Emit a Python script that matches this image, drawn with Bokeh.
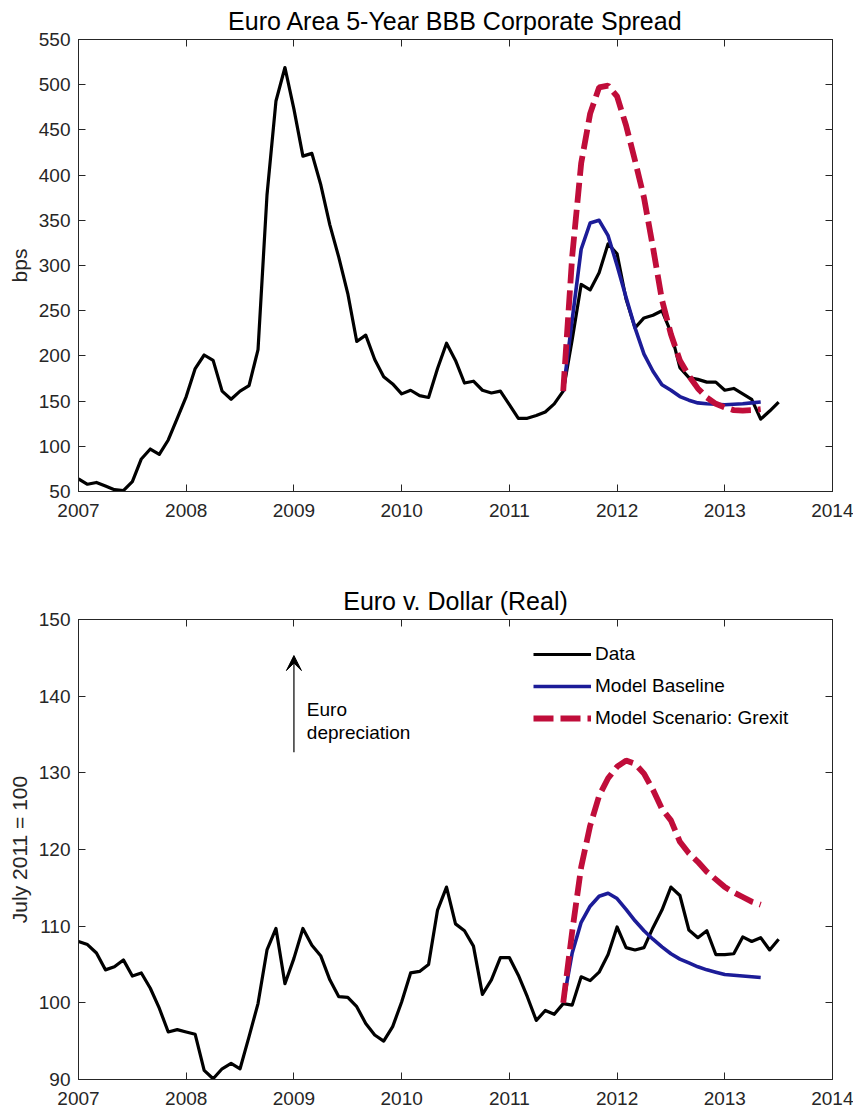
from bokeh.plotting import figure
from bokeh.models import FixedTicker, Range1d, Arrow, VeeHead, Label, LinearAxis
from bokeh.layouts import column
from bokeh.embed import file_html
from bokeh.resources import INLINE

# ---------------- data (monthly, Jan 2007 .. Jul 2013) ----------------
start_year = 2007
model_start = 54  # month index of July 2011

spread_data = [64, 58, 60, 56, 52, 51, 61, 86, 97, 91,
               107, 131, 155, 186, 201, 195, 161, 152, 161, 167,
               207, 378, 482, 519, 473, 421, 424, 389, 345, 309,
               269, 216, 223, 196, 177, 169, 158, 162, 156, 154,
               186, 214, 195, 170, 172, 162, 159, 161, 146, 131,
               131, 134, 138, 147, 161, 218, 279, 273, 292, 324,
               313, 263, 231, 242, 245, 250, 226, 187, 176, 174,
               171, 171, 162, 164, 158, 152, 130, 139, 149]
spread_baseline = [161, 240, 318, 347, 350, 333, 300, 265, 231, 202,
                   183, 168, 162, 155, 151, 148, 147, 146.5, 146, 146.5,
                   147, 148, 149]
spread_grexit = [161, 310, 413, 468, 497, 499, 487, 455, 416, 375,
                 320, 262, 224, 195, 178, 164, 154, 147, 143, 140,
                 139.5, 140, 141]

fx_data = [108.0, 107.6, 106.5, 104.3, 104.7, 105.6, 103.5, 103.9, 101.9, 99.3,
           96.2, 96.5, 96.2, 95.9, 91.2, 90.1, 91.4, 92.1, 91.4, 95.6,
           99.9, 106.9, 109.7, 102.5, 105.8, 109.7, 107.5, 106.1, 103.0, 100.8,
           100.7, 99.5, 97.3, 95.8, 95.0, 96.9, 100.1, 103.9, 104.1, 105.0,
           112.1, 115.1, 110.3, 109.4, 107.4, 101.1, 103.0, 105.9, 105.9, 103.6,
           100.8, 97.7, 99.0, 98.5, 99.9, 99.7, 103.4, 102.9, 104.0, 106.3,
           109.9, 107.2, 106.9, 107.2, 109.8, 112.1, 115.1, 114.0, 109.5, 108.5,
           109.4, 106.3, 106.3, 106.4, 108.6, 108.0, 108.5, 106.9, 108.3]
fx_baseline = [100, 106.5, 110.5, 112.6, 113.9, 114.3, 113.6, 112.2, 110.7, 109.4,
               108.3, 107.3, 106.4, 105.7, 105.2, 104.7, 104.3, 104.0, 103.7, 103.6,
               103.5, 103.4, 103.3]
fx_grexit = [100, 109.3, 117.7, 123.1, 127.0, 129.3, 130.8, 131.6, 131.2, 129.9,
             127.8, 125.3, 123.8, 121.0, 119.5, 118.4, 117.1, 116.1, 115.1, 114.4,
             113.8, 113.2, 112.8]

x_ticks = [2007, 2008, 2009, 2010, 2011, 2012, 2013, 2014]
spread_ticks = [50, 100, 150, 200, 250, 300, 350, 400, 450, 500, 550]
fx_ticks = [90, 100, 110, 120, 130, 140, 150]

legend_names = ["Data", "Model Baseline", "Model Scenario: Grexit"]
arrow_x, arrow_y0, arrow_y1 = 2009.0, 132.7, 145.3
note_x, note_y1, note_y2 = 2009.12, 138.2, 135.3


def months(n, offset=0):
    return [start_year + (offset + i) / 12.0 for i in range(n)]


x_data = months(len(spread_data))
x_model = months(len(spread_baseline), model_start)

FONT = "Liberation Sans"
AX = "#262626"
RED = "#C00D3A"
BLUE = "#1C1C98"


def style(p, yticks, title):
    p.xgrid.visible = False
    p.ygrid.visible = False
    p.outline_line_color = AX
    p.outline_line_width = 1
    p.background_fill_color = "white"
    p.border_fill_color = "white"
    p.title.text = title
    p.title.align = "center"
    p.title.text_font = FONT
    p.title.text_font_size = "25px"
    p.title.text_font_style = "normal"
    p.title.text_color = "black"
    p.title.standoff = 9
    xb = p.below[0]
    yl = p.left[0]
    xb.ticker = FixedTicker(ticks=x_ticks)
    yl.ticker = FixedTicker(ticks=yticks)
    # mirrored axes (tick marks only, no labels drawn) on the top and right edges
    xt = LinearAxis(ticker=FixedTicker(ticks=x_ticks))
    yr = LinearAxis(ticker=FixedTicker(ticks=yticks))
    for ax in [xb, yl, xt, yr]:
        ax.axis_line_color = AX
        ax.major_tick_line_color = AX
        ax.major_tick_in = 7
        ax.major_tick_out = 0
        ax.minor_tick_line_color = None
        ax.major_label_text_font = FONT
        ax.major_label_text_font_size = "19px"
        ax.major_label_text_color = AX
    for ax in [xt, yr]:
        ax.major_label_text_color = None
        ax.major_label_standoff = 0
    p.add_layout(xt, "above")
    p.add_layout(yr, "right")
    xb.major_label_standoff = 12
    yl.major_label_standoff = 8
    yl.axis_label_text_font = FONT
    yl.axis_label_text_font_size = "21px"
    yl.axis_label_text_font_style = "normal"
    yl.axis_label_text_color = AX
    yl.axis_label_standoff = 5
    return yl


# ---------------- top chart ----------------
p1 = figure(width=853, height=545, output_backend="svg", toolbar_location=None,
            x_range=Range1d(2007, 2014), y_range=Range1d(50, 550),
            min_border_left=78, min_border_right=21, min_border_top=38, min_border_bottom=54)
yl1 = style(p1, spread_ticks, "Euro Area 5-Year BBB Corporate Spread")
yl1.axis_label = "bps"
p1.line(x_data, spread_data, line_color="black", line_width=3.2, line_join="round")
p1.line(x_model, spread_baseline, line_color=BLUE, line_width=3.6, line_join="round")
p1.line(x_model, spread_grexit, line_color=RED, line_width=5.8, line_dash="20 7")

# ---------------- bottom chart ----------------
p2 = figure(width=853, height=568, output_backend="svg", toolbar_location=None,
            x_range=Range1d(2007, 2014), y_range=Range1d(90, 150),
            min_border_left=78, min_border_right=21, min_border_top=74, min_border_bottom=34)
yl2 = style(p2, fx_ticks, "Euro v. Dollar (Real)")
yl2.axis_label = "July 2011 = 100"
p2.line(x_data, fx_data, line_color="black", line_width=3.2, line_join="round",
        legend_label=legend_names[0])
p2.line(x_model, fx_baseline, line_color=BLUE, line_width=3.6, line_join="round",
        legend_label=legend_names[1])
p2.line(x_model, fx_grexit, line_color=RED, line_width=5.8, line_dash="20 7",
        legend_label=legend_names[2])

lg = p2.legend[0]
lg.location = (455, 349)
lg.border_line_color = None
lg.background_fill_alpha = 0
lg.padding = 0
lg.margin = 0
lg.spacing = 8
lg.label_height = 24
lg.glyph_height = 24
lg.glyph_width = 58
lg.label_standoff = 4
lg.label_text_font = FONT
lg.label_text_font_size = "19px"
lg.label_text_color = "black"

p2.add_layout(Arrow(end=VeeHead(size=15, fill_color="black", line_color="black", line_width=1),
                    x_start=arrow_x, y_start=arrow_y0, x_end=arrow_x, y_end=arrow_y1,
                    line_color="black", line_width=1.2))
for txt, yy in [("Euro", note_y1), ("depreciation", note_y2)]:
    p2.add_layout(Label(x=note_x, y=yy, text=txt, text_font=FONT, text_font_size="19px",
                        text_color="black", text_baseline="alphabetic"))

layout = column(p1, p2)
open("out.html", "w").write(file_html(layout, INLINE))
